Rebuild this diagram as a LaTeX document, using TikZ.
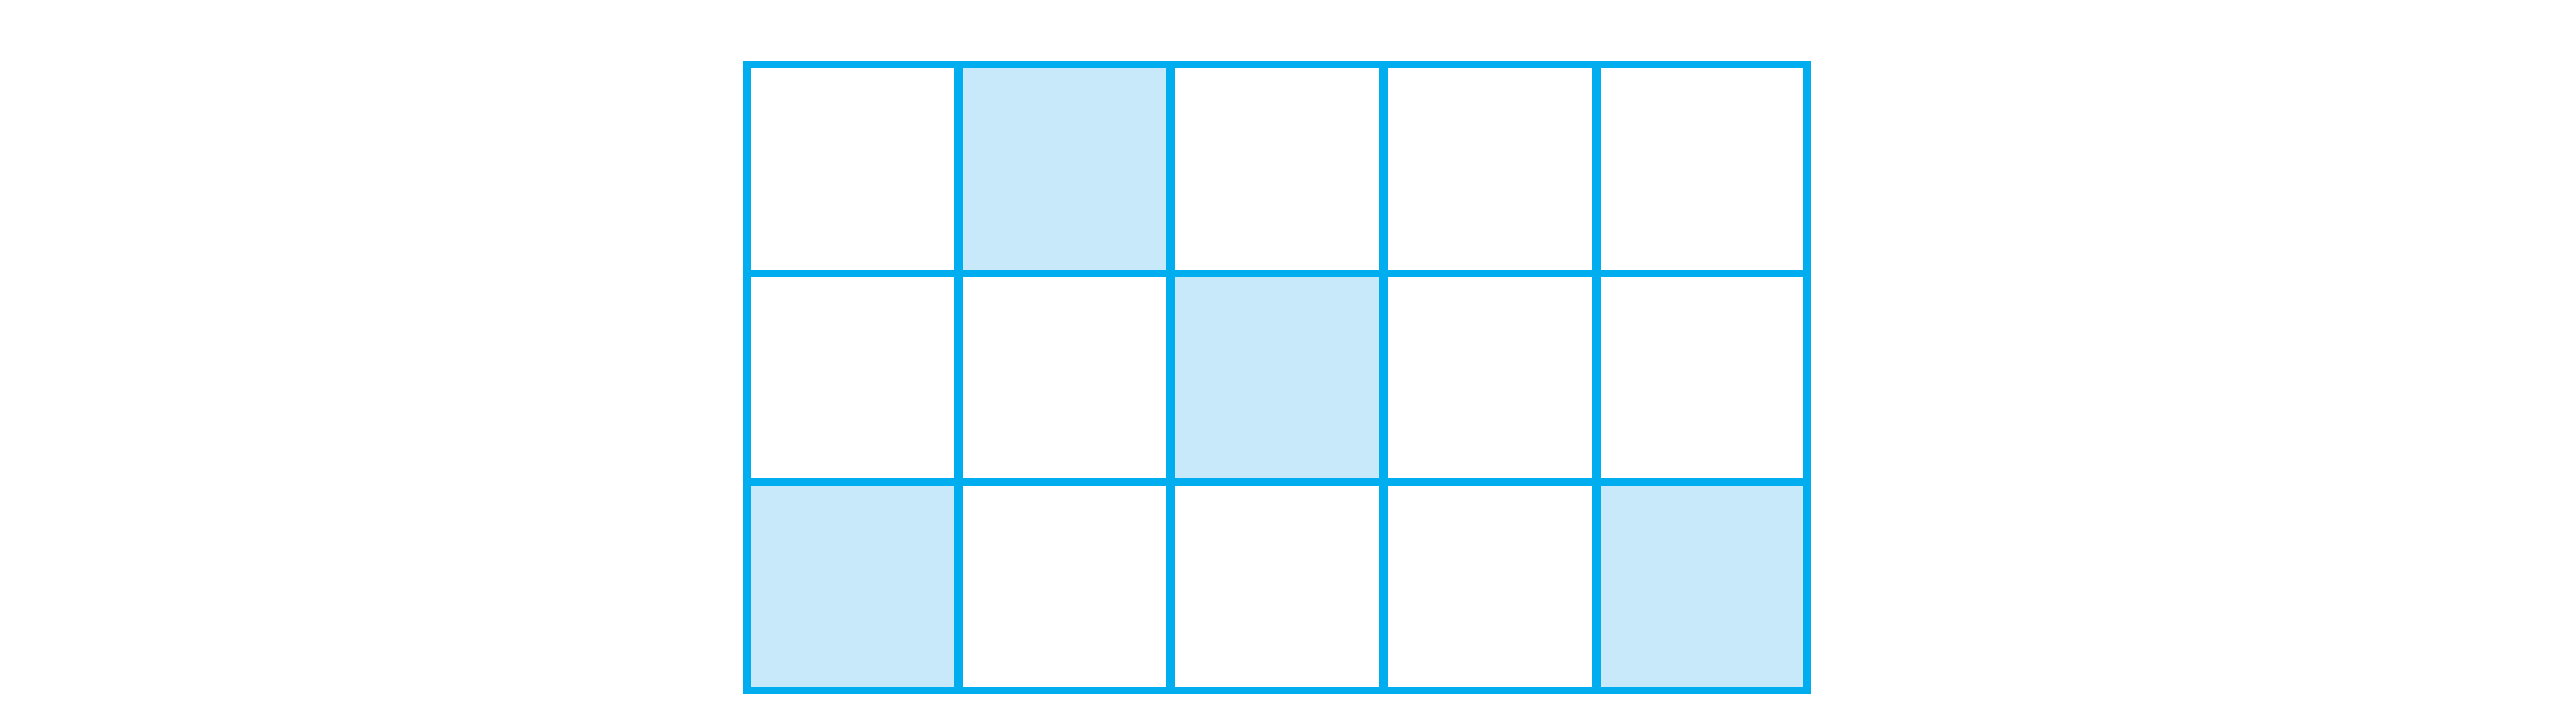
\documentclass[tikz,border=0pt]{standalone}
\definecolor{gridline}{HTML}{00AEEF}
\definecolor{cellfill}{HTML}{C7E9F9}
\begin{document}
\begin{tikzpicture}[x=0.1mm,y=-0.1mm,
  shaded/.style={fill=cellfill,draw=none},
  outer/.style={draw=gridline,line width=0.72mm},
  vline/.style={draw=gridline,line width=0.9mm},
  hline/.style={draw=gridline,line width=0.75mm}]
\useasboundingbox[fill=white] (0,0) rectangle (2554,720);
% shaded cells
\fill[shaded] (958,64.5) rectangle (1170,273.5);
\fill[shaded] (1170,273.5) rectangle (1383,482);
\fill[shaded] (747,482) rectangle (958,690.5);
\fill[shaded] (1596.5,482) rectangle (1807,690.5);
% inner lines
\foreach \x in {958,1170,1383,1596.5} \draw[vline] (\x,64.5) -- (\x,690.5);
\foreach \y in {273.5,482} \draw[hline] (747,\y) -- (1807,\y);
% outer frame
\draw[outer] (747,64.5) rectangle (1807,690.5);
\end{tikzpicture}
\end{document}
